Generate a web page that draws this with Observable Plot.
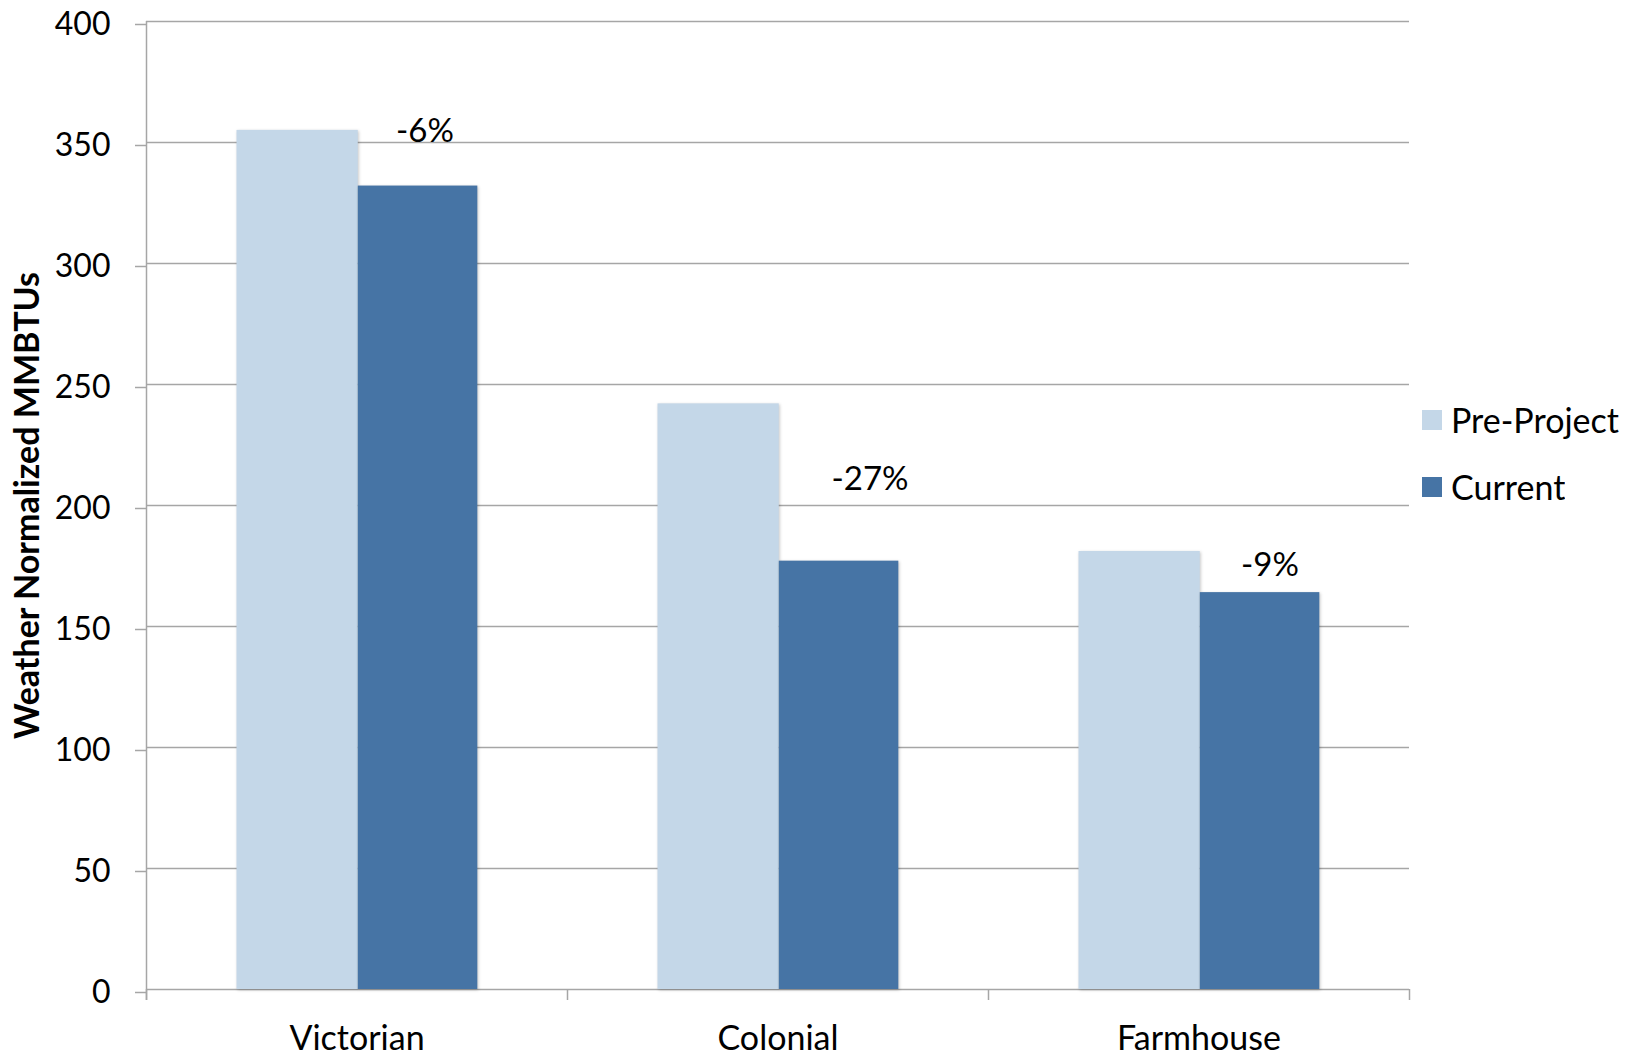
<!DOCTYPE html>
<html>
<head>
<meta charset="utf-8">
<script src="https://cdn.jsdelivr.net/npm/d3@7"></script>
<script src="https://cdn.jsdelivr.net/npm/@observablehq/plot@0.6"></script>
<style>
  html, body { margin: 0; padding: 0; background: #fff; }
  #chart { position: relative; width: 1637px; height: 1058px; font-family: Lato, "Open Sans", sans-serif; }
  #chart svg.plot-main { position: absolute; left: 0; top: 0; }
  #legend { position: absolute; left: 1422px; top: 386px; }
  #legend .lg-swatches { font-family: Lato, "Open Sans", sans-serif !important; font-size: 34px !important; color: #000; margin: 0 !important; }
  #legend .lg-swatch { height: 67px; padding: 0 !important; margin: 0 !important; display: flex; align-items: center; }
  #legend .lg-swatch svg { margin-right: 9px !important; }
  .bars { filter: drop-shadow(1.5px 1.5px 1.5px rgba(0,0,0,0.22)); }
</style>
</head>
<body>
<div id="chart"></div>
<script>
// Annual energy use per house type, before and after the project
const categories = ["Victorian", "Colonial", "Farmhouse"];
const seriesNames = ["Pre-Project", "Current"];
const preProject = [355, 242, 181];
const current = [332, 177, 164];
const yTicks = [0, 50, 100, 150, 200, 250, 300, 350, 400];
const seriesColors = ["#c4d7e8", "#4674a5"];
const yTitle = "Weather Normalized MMBTUs";

const rows = categories.flatMap((category, i) => [
  {category, series: seriesNames[0], value: preProject[i]},
  {category, series: seriesNames[1], value: current[i]}
]);
const changes = categories.map((category, i) => ({
  category,
  value: current[i],
  change: (current[i] - preProject[i]) / preProject[i]
}));

const width = 1637, height = 1058;
const margin = {top: 21, right: 228, bottom: 69, left: 146};
const step = (width - margin.left - margin.right) / categories.length;
const gray = "#a6a6a6";
const font = "Lato, 'Open Sans', sans-serif";

// share of each category band covered by the two bars
const barSpan = {"Pre-Project": [0.215, 0.503], "Current": [0.503, 0.787]};
const bars = seriesNames.map(s => Plot.barY(rows.filter(d => d.series === s), {
  x: "category",
  y: "value",
  fill: "series",
  insetLeft: barSpan[s][0] * step,
  insetRight: (1 - barSpan[s][1]) * step,
  className: "bars"
}));

// change labels sit above the Current bars, each nudged where it reads best
const labelNudge = [{dx: 68, dy: -55}, {dx: 92, dy: -82}, {dx: 71, dy: -27}];
const labels = changes.map((d, i) => Plot.text([d], {
  x: "category",
  y: "value",
  text: c => `${Math.round(c.change * 100)}%`,
  dx: labelNudge[i].dx,
  dy: labelNudge[i].dy,
  fontSize: 33,
  fill: "#000"
}));

const chart = Plot.plot({
  width, height,
  marginTop: margin.top,
  marginRight: margin.right,
  marginBottom: margin.bottom,
  marginLeft: margin.left,
  style: {fontFamily: font, fontSize: "32px", background: "white", color: "#000"},
  x: {type: "band", domain: categories, padding: 0, label: null},
  y: {domain: [0, 400], label: null},
  color: {domain: seriesNames, range: seriesColors},
  marks: [
    Plot.gridY(yTicks, {stroke: gray, strokeOpacity: 1, strokeWidth: 1.5}),
    Plot.axisY(yTicks, {tickSize: 11, tickPadding: 25, stroke: gray, strokeWidth: 1.5, fill: "#000", fontSize: 32, dy: 3, label: null}),
    Plot.axisX({tickSize: 0, tickPadding: 36, fill: "#000", fontSize: 34, label: null}),
    // value axis line, running down past the baseline
    Plot.ruleX(categories.slice(0, 1), {dx: -step / 2, y1: 400, y2: 0, insetBottom: -11, stroke: gray, strokeWidth: 1.5}),
    // category boundary ticks
    Plot.ruleX(categories, {dx: -step / 2, y1: 0, y2: 0, insetBottom: -11, stroke: gray, strokeWidth: 1.5}),
    Plot.ruleX(categories.slice(-1), {dx: step / 2, y1: 0, y2: 0, insetBottom: -11, stroke: gray, strokeWidth: 1.5}),
    ...bars,
    ...labels,
    Plot.text([yTitle], {
      frameAnchor: "left",
      textAnchor: "middle",
      dx: -118,
      rotate: -90,
      fontWeight: "bold",
      fontSize: 34,
      fill: "#000"
    })
  ]
});
chart.classList.add("plot-main");

const container = document.getElementById("chart");
container.appendChild(chart);

const legend = chart.legend("color", {columns: 1, swatchSize: 20, className: "lg"});
const legendBox = document.createElement("div");
legendBox.id = "legend";
legendBox.appendChild(legend);
container.appendChild(legendBox);
</script>
</body>
</html>
